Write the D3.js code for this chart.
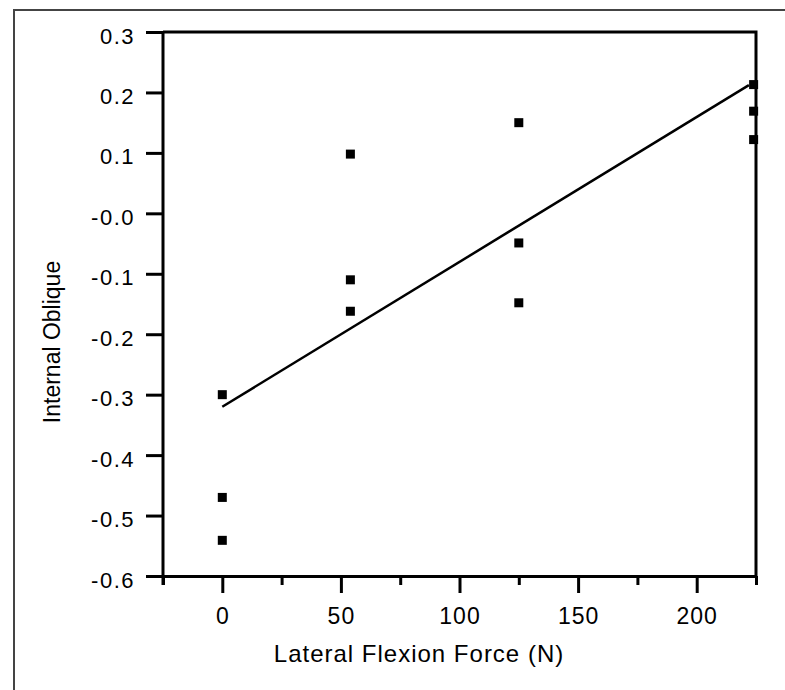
<!DOCTYPE html>
<html>
<head>
<meta charset="utf-8">
<script src="https://cdn.jsdelivr.net/npm/d3@7"></script>
<style>
  body { margin: 0; background: #fff; }
  svg { display: block; font-family: "Liberation Sans", Arial, Helvetica, sans-serif; }
  .axis path, .axis line { stroke: #000; stroke-width: 3; }
  .axis text { fill: #000; }
</style>
</head>
<body>
<div id="chart"></div>
<script>
var svgWidth = 785;
var svgHeight = 690;

// data
var forceValues = [0, 0, 0, 54, 54, 54, 125, 125, 125, 224, 224, 224];
var obliqueValues = [-0.300, -0.470, -0.541, 0.098, -0.110, -0.162, 0.150, -0.049, -0.148, 0.213, 0.169, 0.122];
var fitX = [0, 222];
var fitY = [-0.320, 0.212];
var xMajorTicks = [0, 50, 100, 150, 200];
var xMinorTicks = [-25, 25, 75, 125, 175, 225];
var yTicks = [0.3, 0.2, 0.1, 0, -0.1, -0.2, -0.3, -0.4, -0.5, -0.6];
var yTickLabels = ["0.3", "0.2", "0.1", "-0.0", "-0.1", "-0.2", "-0.3", "-0.4", "-0.5", "-0.6"];

var plot = { left: 163, right: 756, top: 32, bottom: 576 };

var svg = d3.select("#chart")
  .append("svg")
  .attr("width", svgWidth)
  .attr("height", svgHeight);

// scanned page frame
svg.append("path")
  .attr("d", "M14,690 V10 H785")
  .attr("fill", "none")
  .attr("stroke", "#444")
  .attr("stroke-width", 2);

var xScale = d3.scaleLinear()
  .domain([-25, 225])
  .range([plot.left, plot.right]);

var yScale = d3.scaleLinear()
  .domain([-0.6, 0.3])
  .range([plot.bottom, plot.top]);

// top and right frame of the plot
svg.append("path")
  .attr("d", `M${plot.left},${plot.top} H${plot.right} V${plot.bottom}`)
  .attr("fill", "none")
  .attr("stroke", "#000")
  .attr("stroke-width", 3);

// x axis: minor ticks then major ticks
svg.append("g")
  .attr("class", "axis")
  .attr("transform", `translate(0, ${plot.bottom})`)
  .call(d3.axisBottom(xScale).tickValues(xMinorTicks).tickSize(9).tickSizeOuter(0).tickFormat(""));

var xAxis = svg.append("g")
  .attr("class", "axis")
  .attr("transform", `translate(0, ${plot.bottom})`)
  .call(d3.axisBottom(xScale).tickValues(xMajorTicks).tickSize(17).tickSizeOuter(0).tickPadding(15));

xAxis.selectAll("text")
  .style("font-size", "23px")
  .style("letter-spacing", "1px");

// y axis
var yAxis = svg.append("g")
  .attr("class", "axis")
  .attr("transform", `translate(${plot.left}, 0)`)
  .call(d3.axisLeft(yScale)
    .tickValues(yTicks)
    .tickSize(17)
    .tickSizeOuter(0)
    .tickPadding(11)
    .tickFormat((d, i) => yTickLabels[i]));

yAxis.select(".domain").attr("d", `M0,${plot.top}V${plot.bottom + 9}`);

yAxis.selectAll("text")
  .style("font-size", "22px")
  .style("letter-spacing", "1.5px")
  .attr("dy", "0.5em");

// regression line
svg.append("line")
  .attr("x1", xScale(fitX[0]))
  .attr("y1", yScale(fitY[0]))
  .attr("x2", xScale(fitX[1]))
  .attr("y2", yScale(fitY[1]))
  .attr("stroke", "#000")
  .attr("stroke-width", 2.5);

// points
var sq = 9;
svg.append("g")
  .selectAll("rect")
  .data(forceValues)
  .enter()
  .append("rect")
  .attr("x", d => xScale(d) - sq / 2)
  .attr("y", (d, i) => yScale(obliqueValues[i]) - sq / 2)
  .attr("width", sq)
  .attr("height", sq)
  .attr("fill", "#000");

// axis titles
svg.append("text")
  .attr("x", 419)
  .attr("y", 662)
  .attr("text-anchor", "middle")
  .style("font-size", "24px")
  .style("letter-spacing", "1px")
  .text("Lateral Flexion Force (N)");

svg.append("text")
  .attr("transform", "translate(60, 342) rotate(-90)")
  .attr("text-anchor", "middle")
  .style("font-size", "23px")
  .text("Internal Oblique");
</script>
</body>
</html>
